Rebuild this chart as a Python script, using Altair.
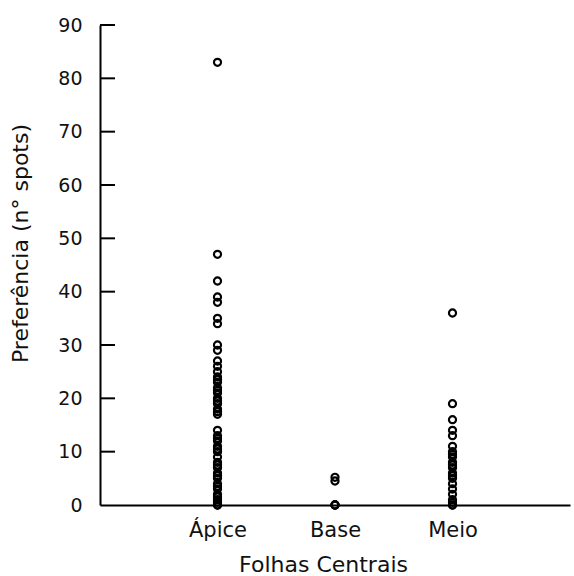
import altair as alt
import pandas as pd

# Preference counts (number of spots) per central-leaf position
categories = ["Ápice", "Base", "Meio"]
apice = [0, 0, 0.5, 1, 1.5, 2, 3, 3.5, 4, 5, 5.5, 6, 7, 7.5, 8, 9, 10, 10.5,
         11, 12, 12.5, 13, 14, 17, 17.5, 18, 19, 19.5, 20, 21, 21.5, 22, 23,
         23.5, 24, 25, 26, 27, 29, 30, 34, 35, 38, 39, 42, 47, 83]
base = [0, 0, 0, 4.5, 5.2]
meio = [0, 0, 0.5, 1, 2, 3, 4, 5, 5.5, 6, 7, 7.5, 8, 9, 9.5, 10, 11, 13,
        14, 16, 19, 36]
y_ticks = [10, 20, 30, 40, 50, 60, 70, 80, 90]

df = pd.DataFrame(
    [{"Folha": "Ápice", "Spots": v} for v in apice]
    + [{"Folha": "Base", "Spots": v} for v in base]
    + [{"Folha": "Meio", "Spots": v} for v in meio]
)
ticks_df = pd.DataFrame({"t": y_ticks})

FONT = "DejaVu Sans"

x_enc = alt.X(
    "Folha:N",
    scale=alt.Scale(domain=categories, padding=1),
    axis=alt.Axis(
        title="Folhas Centrais",
        labelAngle=0,
        ticks=False,
        labelPadding=14,
        titlePadding=14,
        titleX=223,
    ),
)
y_scale = alt.Scale(domain=[0, 90], nice=False)

points = alt.Chart(df).mark_point(
    shape="circle", filled=False, color="black", size=50, strokeWidth=2.2, opacity=1
).encode(
    x=x_enc,
    y=alt.Y(
        "Spots:Q",
        scale=y_scale,
        axis=alt.Axis(
            title="Preferência (n° spots)",
            values=[0] + y_ticks,
            ticks=False,
            labelPadding=18,
            labelFontSize=19,
            titlePadding=25,
            titleY=218,
            grid=False,
        ),
    ),
)

# inward tick marks on the value axis
inner_ticks = alt.Chart(ticks_df).mark_rule(color="black", strokeWidth=2).encode(
    y=alt.Y("t:Q", scale=y_scale),
    x=alt.value(0),
    x2=alt.value(15),
)

chart = (
    alt.layer(inner_ticks, points)
    .properties(
        width=470,
        height=480,
        padding={"left": 100, "top": 25, "right": 4, "bottom": 71},
        autosize=alt.AutoSizeParams(type="none"),
        background="white",
    )
    .configure_view(stroke=None)
    .configure_axis(
        domainColor="black",
        domainWidth=2,
        labelFont=FONT,
        titleFont=FONT,
        labelFontSize=21,
        titleFontSize=22,
        labelColor="#111",
        titleColor="#111",
        titleFontWeight="normal",
        grid=False,
    )
)

chart.save("out.html", embed_options={"renderer": "svg", "actions": False})
